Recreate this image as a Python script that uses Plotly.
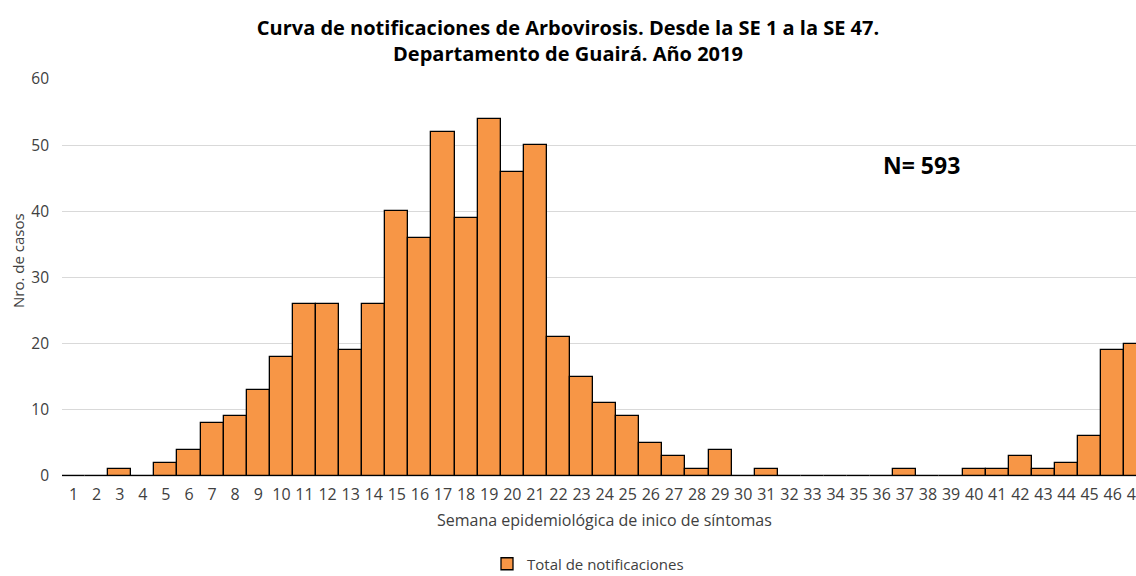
import plotly.graph_objects as go

semanas = list(range(1, 48))
casos = [0, 0, 1, 0, 2, 4, 8, 9, 13, 18,
         26, 26, 19, 26, 40, 36, 52, 39, 54, 46,
         50, 21, 15, 11, 9, 5, 3, 1, 4, 0,
         1, 0, 0, 0, 0, 0, 1, 0, 0, 1,
         1, 3, 1, 2, 6, 19, 20]
tick_labels = [str(s) for s in semanas]

FONT = "Open Sans, Noto Sans, sans-serif"
W, H = 1136, 576
L, R, T, B = 62, 0, 79, 100
PW, PH = W - L - R, H - T - B

def px_x(px):
    return (px - L) / PW

def px_y(py):
    return (H - B - py) / PH

fig = go.Figure()
fig.add_trace(go.Bar(
    x=semanas, y=casos, name="Total de notificaciones",
    marker=dict(color="#F79646", line=dict(color="#000000", width=1.3)),
    width=1.0,
))

fig.update_layout(
    width=W, height=H,
    margin=dict(l=L, r=R, t=T, b=B, autoexpand=False),
    paper_bgcolor="white", plot_bgcolor="white",
    font=dict(family=FONT, color="#404040", size=15),
    title=dict(
        text="<b>Curva de notificaciones de Arbovirosis. Desde la SE 1 a la SE 47.<br>Departamento de Guairá. Año 2019</b>",
        x=0.5, xanchor="center", xref="container",
        y=1 - 34.5 / H, yanchor="middle", yref="container",
        font=dict(family=FONT, size=20, color="#000000"),
    ),
    bargap=0,
    showlegend=True,
    legend=dict(orientation="h", x=px_x(487), xanchor="left",
                y=px_y(564), yanchor="middle", itemwidth=30,
                font=dict(size=15, color="#404040")),
    xaxis=dict(
        range=[0.5, 47.01], tickmode="array", tickvals=semanas, ticktext=tick_labels,
        showgrid=False, showline=True, linecolor="#D9D9D9", linewidth=1,
        tickfont=dict(size=16, color="#404040"), ticks="", automargin=False,
        ticklabelstandoff=4, ticklabeloverflow="allow",
    ),
    yaxis=dict(
        range=[0, 60], dtick=10, showgrid=True, gridcolor="#D9D9D9", gridwidth=1,
        zeroline=False, tickfont=dict(size=15.5, color="#404040"), ticks="",
        ticklabelstandoff=12, automargin=False,
    ),
    annotations=[
        dict(text="<b>N= 593</b>", x=px_x(921.5), y=px_y(165), xref="paper", yref="paper",
             xanchor="center", yanchor="middle", showarrow=False,
             font=dict(family=FONT, size=23, color="#000000")),
        dict(text="Semana epidemiológica de inico de síntomas", x=px_x(604), y=px_y(520),
             xref="paper", yref="paper", xanchor="center", yanchor="middle", showarrow=False,
             font=dict(family=FONT, size=16, color="#404040")),
        dict(text="Nro. de casos", x=px_x(18), y=px_y(261), textangle=-90,
             xref="paper", yref="paper", xanchor="center", yanchor="middle", showarrow=False,
             font=dict(family=FONT, size=15, color="#404040")),
    ],
)

fig.write_html("out.html", config={"displayModeBar": False},
               post_script="document.body.style.margin='0';document.body.style.overflow='hidden';")
